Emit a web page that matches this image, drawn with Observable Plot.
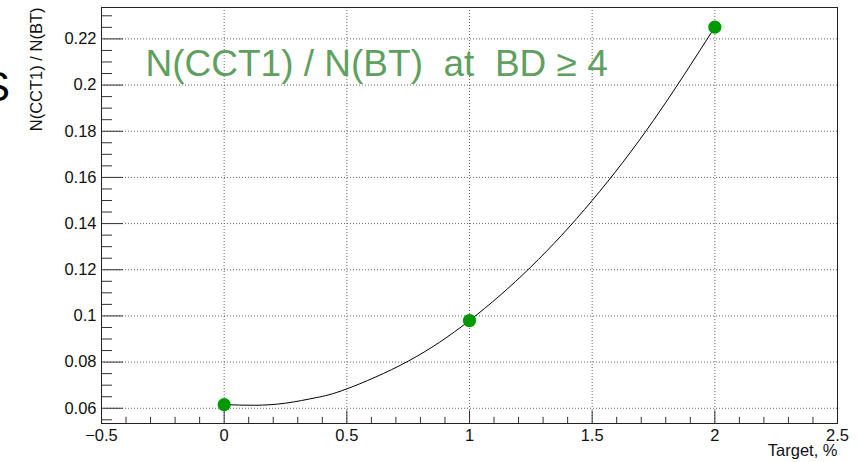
<!DOCTYPE html>
<html>
<head>
<meta charset="utf-8">
<script src="https://cdn.jsdelivr.net/npm/d3@7"></script>
<script src="https://cdn.jsdelivr.net/npm/@observablehq/plot@0.6"></script>
<style>
  body { margin: 0; background: #fff; }
  svg text { white-space: pre; }
</style>
</head>
<body>
<div id="chart"></div>
<script>
// Measured ratio N(CCT1)/N(BT) versus target thickness
const targets = [0, 1, 2];
const ratios = [0.0616, 0.098, 0.2251];

// Fitted curve, sampled along x
const fitX = [0, 0.125, 0.25, 0.375, 0.5, 0.75, 1, 1.25, 1.5, 1.75, 2];
const fitY = [0.0616, 0.0613, 0.0622, 0.0646, 0.0684, 0.0804, 0.098, 0.1212, 0.150, 0.1847, 0.2251];

// Axis ticks and labels
const xMajor = [-0.5, 0, 0.5, 1, 1.5, 2, 2.5];
const xLabels = ["\u22120.5", "0", "0.5", "1", "1.5", "2", "2.5"];
const yMajor = [0.06, 0.08, 0.1, 0.12, 0.14, 0.16, 0.18, 0.2, 0.22];
const yLabels = ["0.06", "0.08", "0.1", "0.12", "0.14", "0.16", "0.18", "0.2", "0.22"];

const xTitle = "Target, %";
const yTitle = "N(CCT1) / N(BT)";
const annotation = "N(CCT1) / N(BT)\u00a0\u00a0at\u00a0\u00a0BD \u2265 4";

const W = 866, H = 462;
const mL = 101, mR = 29, mT = 7, mB = 39;
const plotW = W - mL - mR, plotH = H - mT - mB;

const near = (a, b) => Math.abs(a - b) < 1e-9;
const xMinor = d3.range(-0.4, 2.45, 0.1).filter(v => !xMajor.some(m => near(m, v)));
const yMinor = d3.range(0.055, 0.2336, 0.005).filter(v => !yMajor.some(m => near(m, v)));

const font = "Liberation Sans, Arial, Helvetica, sans-serif";
const fit = fitX.map((x, i) => ({x, y: fitY[i]}));
const pts = targets.map((x, i) => ({x, y: ratios[i]}));

const chart = Plot.plot({
  width: W,
  height: H,
  marginLeft: mL,
  marginRight: mR,
  marginTop: mT,
  marginBottom: mB,
  style: {fontFamily: font, fontSize: "16.5px", background: "#fff", color: "#111"},
  x: {type: "linear", domain: [-0.5, 2.5]},
  y: {type: "linear", domain: [0.0534, 0.2336]},
  marks: [
    // dotted grid at the major ticks
    Plot.gridX(xMajor.slice(1, -1), {stroke: "#666", strokeOpacity: 1, strokeDasharray: "1,2"}),
    Plot.gridY(yMajor, {stroke: "#666", strokeOpacity: 1, strokeDasharray: "1,2"}),
    // inward ticks on the bottom and left edges
    Plot.tickX(xMinor, {x: d => d, insetTop: plotH - 6.2, stroke: "#333"}),
    Plot.tickX(xMajor, {x: d => d, insetTop: plotH - 12.5, stroke: "#333"}),
    Plot.tickY(yMinor, {y: d => d, insetRight: plotW - 11, stroke: "#333"}),
    Plot.tickY(yMajor, {y: d => d, insetRight: plotW - 22, stroke: "#333"}),
    Plot.axisX(xMajor, {tickSize: 0, tickPadding: 5.5, label: null, fontSize: 16.5,
      tickFormat: d => xLabels[xMajor.findIndex(m => near(m, d))]}),
    Plot.axisY(yMajor, {tickSize: 0, tickPadding: 5, label: null, fontSize: 16.5,
      tickFormat: d => yLabels[yMajor.findIndex(m => near(m, d))]}),
    Plot.frame({stroke: "#222"}),
    // fit curve and measured points
    Plot.line(fit, {x: "x", y: "y", curve: "natural", stroke: "#000", strokeWidth: 1}),
    Plot.dot(pts, {x: "x", y: "y", r: 6.6, fill: "#009900", stroke: "none"}),
    // titles
    Plot.text([xTitle], {frameAnchor: "bottom-right", textAnchor: "end", lineAnchor: "bottom",
      dy: 32, fontSize: 16.5, fill: "#111"}),
    Plot.text([yTitle], {frameAnchor: "top-left", rotate: -90, textAnchor: "end", lineAnchor: "bottom",
      dx: 41.5 - mL, dy: 0, fontSize: 16.5, fill: "#111"}),
    Plot.text([annotation], {frameAnchor: "top-left", textAnchor: "start", lineAnchor: "bottom",
      dx: 145 - mL, dy: 75 - mT, fontSize: 37, fill: "#5fa060"}),
    Plot.text(["S"], {frameAnchor: "top-left", textAnchor: "end", lineAnchor: "bottom",
      dx: 9.5 - mL, dy: 100 - mT, fontSize: 42, fill: "#000"})
  ]
});

document.getElementById("chart").appendChild(chart);
</script>
</body>
</html>
